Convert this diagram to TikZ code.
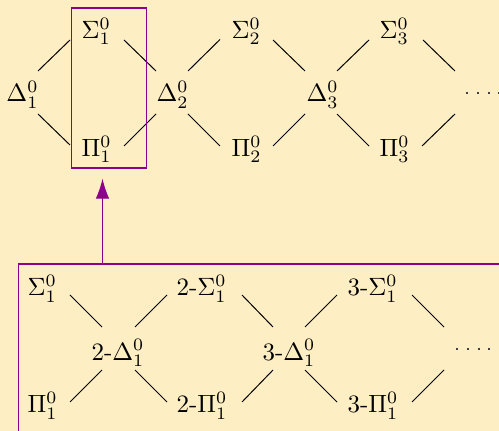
\documentclass[tikz,border=0pt]{standalone}
\usetikzlibrary{calc,arrows.meta}
\definecolor{bg}{RGB}{253,238,196}
\definecolor{vio}{RGB}{140,0,140}
\begin{document}
\begin{tikzpicture}[x=0.4pt,y=-0.4pt,
  lbl/.style={inner sep=0pt, anchor=base west},
  ln/.style={line width=0.4pt, black},
  frame/.style={draw=vio, line width=0.45pt, inner sep=0pt},
  dotline/.style={line width=0.7pt, black!75, dash pattern=on 0.8pt off 3.5pt},
  upar/.style={draw=vio, line width=0.45pt, -{Latex[length=8pt,width=5.4pt]}}]
\useasboundingbox (0,0) rectangle (499,431);
\fill[bg] (0,0) rectangle (499,431);
\clip (0,0) rectangle (499,431);

% ---------- upper lattice ----------
\node[lbl] (D1) at (6,102)    {$\Delta^0_1$};
\node[lbl] (S1) at (81,38.5)  {$\Sigma^0_1$};
\node[lbl] (P1) at (81,156.5) {$\Pi^0_1$};
\node[lbl] (D2) at (156,102)  {$\Delta^0_2$};
\node[lbl] (S2) at (231,38.5) {$\Sigma^0_2$};
\node[lbl] (P2) at (231,156.5){$\Pi^0_2$};
\node[lbl] (D3) at (306,102)  {$\Delta^0_3$};
\node[lbl] (S3) at (379,38.5) {$\Sigma^0_3$};
\node[lbl] (P3) at (379,156.5){$\Pi^0_3$};
\coordinate (dT) at (466,93);
\draw[dotline] (dT) -- ++(45,0);

\draw[ln] ($(D1.base west)+(32,-31)$) -- ($(S1.base west)+(-11,1.5)$);
\draw[ln] ($(S1.base west)+(43,1.5)$) -- ($(D2.base west)+(0,-31)$);
\draw[ln] ($(D2.base west)+(32,-31)$) -- ($(S2.base west)+(-11,1)$);
\draw[ln] ($(S2.base west)+(42,1.5)$) -- ($(D3.base west)+(-1,-31)$);
\draw[ln] ($(D3.base west)+(31,-31)$) -- ($(S3.base west)+(-10,1.5)$);
\draw[ln] ($(S3.base west)+(44,1.5)$) -- ($(dT)+(-11,-22)$);

\draw[ln] ($(D1.base west)+(32,12)$) -- ($(P1.base west)+(-11,-11.5)$);
\draw[ln] ($(P1.base west)+(43,-10.5)$) -- ($(D2.base west)+(0,12)$);
\draw[ln] ($(D2.base west)+(32,12)$) -- ($(P2.base west)+(-11,-10.5)$);
\draw[ln] ($(P2.base west)+(42,-10.5)$) -- ($(D3.base west)+(-1,12)$);
\draw[ln] ($(D3.base west)+(31,12)$) -- ($(P3.base west)+(-10,-10.5)$);
\draw[ln] ($(P3.base west)+(43,-10.5)$) -- ($(dT)+(-11,21)$);

\node[frame, anchor=north west, minimum width=30pt, minimum height=64pt] (box) at (70.5,7.5) {};

% ---------- lower lattice ----------
\node[frame, anchor=north west, minimum width=220pt, minimum height=80pt] (big) at (17.5,263.5) {};

\node[lbl] (bS1) at (27,296)  {$\Sigma^0_1$};
\node[lbl] (bP1) at (27,413)  {$\Pi^0_1$};
\node[lbl] (bD2) at (91,360)  {2-$\Delta^0_1$};
\node[lbl] (bS2) at (176,296) {2-$\Sigma^0_1$};
\node[lbl] (bP2) at (176,413) {2-$\Pi^0_1$};
\node[lbl] (bD3) at (262,360) {3-$\Delta^0_1$};
\node[lbl] (bS3) at (347,296) {3-$\Sigma^0_1$};
\node[lbl] (bP3) at (347,413) {3-$\Pi^0_1$};
\coordinate (dB) at (456,349);
\draw[dotline] (dB) -- ++(45,0);

\draw[ln] ($(bS1.base west)+(43,-1)$) -- ($(bD2.base west)+(11,-33)$);
\draw[ln] ($(bD2.base west)+(44,-33)$) -- ($(bS2.base west)+(-9,-1)$);
\draw[ln] ($(bS2.base west)+(66,-1)$) -- ($(bD3.base west)+(11,-33)$);
\draw[ln] ($(bD3.base west)+(43,-33)$) -- ($(bS3.base west)+(-10,-1)$);
\draw[ln] ($(bS3.base west)+(65,-1)$) -- ($(dB)+(-12,-22)$);

\draw[ln] ($(bP1.base west)+(43,-11)$) -- ($(bD2.base west)+(11,10)$);
\draw[ln] ($(bD2.base west)+(44,10)$) -- ($(bP2.base west)+(-9,-11)$);
\draw[ln] ($(bP2.base west)+(66,-11)$) -- ($(bD3.base west)+(11,10)$);
\draw[ln] ($(bD3.base west)+(43,10)$) -- ($(bP3.base west)+(-10,-11)$);
\draw[ln] ($(bP3.base west)+(65,-11)$) -- ($(dB)+(-12,21)$);

% ---------- arrow ----------
\draw[upar] ($(big.north west)+(85,0)$) -- ($(box.south west)+(32,10)$);
\end{tikzpicture}
\end{document}
